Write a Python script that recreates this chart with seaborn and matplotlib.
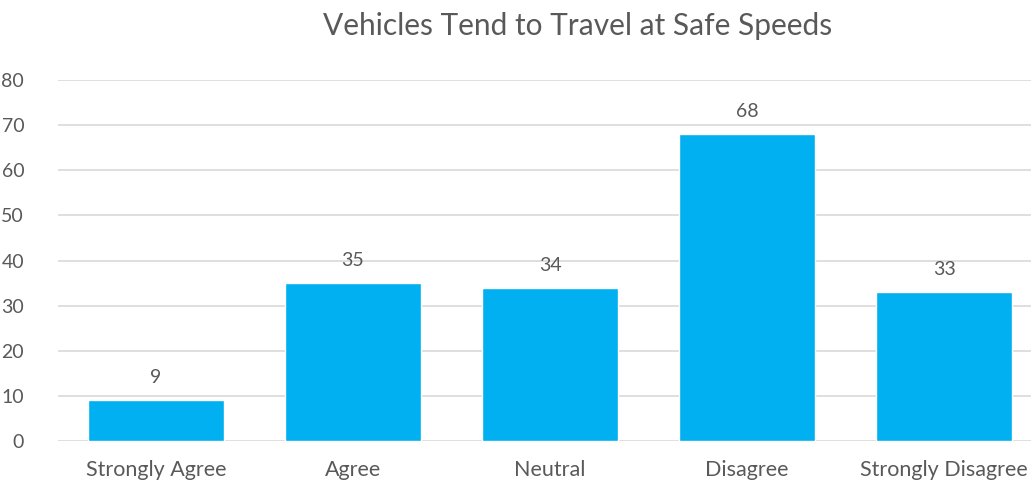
import seaborn as sns
import matplotlib.pyplot as plt
import pandas as pd

categories = ['Strongly Agree', 'Agree', 'Neutral', 'Disagree', 'Strongly Disagree']
counts = [9, 35, 34, 68, 33]
yticks = [0, 10, 20, 30, 40, 50, 60, 70, 80]

df = pd.DataFrame({'response': categories, 'count': counts})

sns.set_style('white')
plt.rcParams['font.family'] = ['Lato', 'DejaVu Sans']
gray = '#595959'

fig = plt.figure(figsize=(10.31, 4.88), dpi=100)
ax = fig.add_axes([57.5 / 1031, 47 / 488, 985 / 1031, 361 / 488])

sns.barplot(data=df, x='response', y='count', color='#00B0F0', width=0.69,
            saturation=1, ax=ax, zorder=3)

for i, v in enumerate(counts):
    ax.annotate(str(v), (i, v), xytext=(0, 10), textcoords='offset points',
                ha='center', va='bottom', fontsize=14, color=gray)

ax.set_ylim(0, 80)
ax.set_yticks(yticks)
ax.grid(axis='y', color='#D9D9D9', linewidth=1.2, zorder=0)
for s in ax.spines.values():
    s.set_visible(False)
ax.tick_params(axis='both', length=0, labelcolor=gray)
ax.tick_params(axis='x', pad=14, labelsize=15.5)
ax.tick_params(axis='y', pad=24, labelsize=14)
ax.set_xlabel('')
ax.set_ylabel('')

fig.text(577.5 / 1031, 1 - 26 / 488, 'Vehicles Tend to Travel at Safe Speeds',
         ha='center', va='center', fontsize=21.5, color=gray)

fig.savefig('out.png', dpi=100)
